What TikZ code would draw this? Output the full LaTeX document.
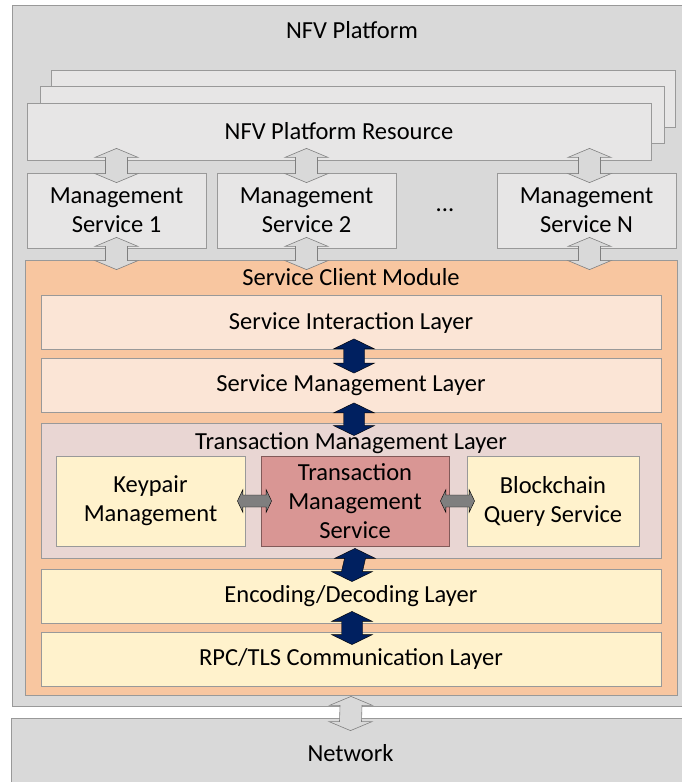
\documentclass[tikz,border=0pt]{standalone}
\usepackage{fontspec}
\setmainfont{Carlito}
\usepackage{tikz}
\usetikzlibrary{calc,positioning}
\definecolor{platgray}{HTML}{D9D9D9}
\definecolor{boxgray}{HTML}{E7E6E6}
\definecolor{linegray}{HTML}{999999}
\definecolor{arrowline}{HTML}{7F7F7F}
\definecolor{scmorange}{HTML}{F8C6A0}
\definecolor{layerpeach}{HTML}{FBE5D6}
\definecolor{tmlrose}{HTML}{E9D6D3}
\definecolor{layercream}{HTML}{FFF2CC}
\definecolor{tmsred}{HTML}{D99694}
\definecolor{darkblue}{HTML}{002060}
\definecolor{midgray}{HTML}{7F7F7F}

\begin{document}
\begin{tikzpicture}[x=1pt,y=-1pt,
    font=\fontsize{24.5}{29}\selectfont,
    box/.style={draw=linegray, line width=0.8pt, align=center, inner sep=0pt},
    resbox/.style={box, fill=boxgray, minimum width=624pt, minimum height=57pt},
    msbox/.style={box, fill=boxgray, minimum width=179pt, minimum height=75pt},
    layer/.style={box, minimum width=620pt, minimum height=54pt},
    subbox/.style={box, minimum height=90pt},
    biarrow/.style n args={3}{to path={(\tikztostart) -- ++(#1,#2) -- ++({#3-#1},0)
      -- ($(\tikztotarget)+(#3,-#2)$) -- ++({#1-#3},0) -- (\tikztotarget)
      -- ++(-#1,-#2) -- ++({#1-#3},0) -- ($(\tikztostart)+(-#3,#2)$)
      -- ++({#3-#1},0) -- cycle}},
    sidearrow/.style n args={3}{to path={(\tikztostart) -- ++(#2,-#1) -- ++(0,{#1-#3})
      -- ($(\tikztotarget)+(-#2,-#3)$) -- ++(0,{#3-#1}) -- (\tikztotarget)
      -- ++(-#2,#1) -- ++(0,{#3-#1}) -- ($(\tikztostart)+(#2,#3)$)
      -- ++(0,{#1-#3}) -- cycle}},
    hollowarrow/.style={biarrow={21.5}{9}{11}, draw=arrowline, line width=0.6pt, fill=platgray},
    bluearrow/.style={biarrow={20.5}{10}{10.5}, fill=darkblue},
    greyarrow/.style={sidearrow={11.5}{5.5}{6}, fill=midgray}]
\useasboundingbox (0,0) rectangle (681,782);
%%%%%%%%%%%%%%%%
\node[box, fill=platgray, minimum width=678pt, minimum height=701pt] (platform) at (351,355.5) {};
\node (plattitle) at (352,30) {NFV Platform};
\node[box, fill=platgray, minimum width=679pt, minimum height=70pt] (network) at (350.5,753) {Network};
%%%%%%%%%%%%%%%%
\node[resbox] (back3) at (363,99) {};
\node[resbox] (back2) at (352,115) {};
\node[resbox] (res) at (339,131.5) {NFV Platform Resource};
%%%%%%%%%%%%%%%%
\node[msbox] (ms1) at (116.5,210.5) {Management\\Service 1};
\node[msbox] (ms2) at (306.5,210.5) {Management\\Service 2};
\node (dots) at (445,210) {...};
\node[msbox] (msn) at (586.5,210.5) {Management\\Service N};
%%%%%%%%%%%%%%%%
\node[box, fill=scmorange, minimum width=652pt, minimum height=435pt] (scm) at (351,477.5) {};
\node (scmtitle) at (351,277) {Service Client Module};
\node[layer, fill=layerpeach] (sil) at (351,322.5) {Service Interaction Layer};
\node[layer, fill=layerpeach] (sml) at (351,385.5) {Service Management Layer};
\node[layer, fill=tmlrose, minimum height=135pt] (tml) at (351,490.5) {};
\node (tmltitle) at (351,443) {Transaction Management Layer};
\node[subbox, fill=layercream, minimum width=189pt] (kp) at (150.5,501) {Keypair\\Management};
\node[subbox, fill=tmsred, draw=tmsred!60!black, minimum width=188pt] (tms) at (355,501) {Transaction\\Management\\Service};
\node[subbox, fill=layercream, minimum width=172pt] (bqs) at (553,501) {Blockchain\\Query Service};
\node[layer, fill=layercream] (ed) at (351,596) {Encoding/Decoding Layer};
\node[layer, fill=layercream] (rpc) at (351,659) {RPC/TLS Communication Layer};
%%%%%%%%%%%%%%%%
\draw[hollowarrow] ([yshift=12pt]res.south -| ms1) to ([yshift=-10pt]ms1.north);
\draw[hollowarrow] ([yshift=12pt]res.south -| ms2) to ([yshift=-10pt]ms2.north);
\draw[hollowarrow] ([yshift=12pt,xshift=3pt]res.south -| msn) to ([yshift=-10pt,xshift=3pt]msn.north);
\draw[hollowarrow] ([yshift=11pt]ms1.south) to ([yshift=-10pt]scm.north -| ms1);
\draw[hollowarrow] ([yshift=11pt]ms2.south) to ([yshift=-10pt]scm.north -| ms2);
\draw[hollowarrow] ([yshift=11pt,xshift=3pt]msn.south) to ([yshift=-10pt,xshift=3pt]scm.north -| msn);
\draw[hollowarrow] ([yshift=-1pt]scm.south) to ([yshift=-13pt]network.north);
%%%%%%%%%%%%%%%%
\draw[bluearrow] ([yshift=11pt,xshift=3pt]sil.south) to ([yshift=-15pt,xshift=3pt]sml.north);
\draw[bluearrow] ([yshift=10pt,xshift=3pt]sml.south) to ([yshift=-13pt,xshift=3pt]tml.north);
\draw[bluearrow] ([yshift=-2pt]tms.south) to ([yshift=-13pt,xshift=1pt]ed.north);
\draw[bluearrow] ([yshift=12pt,xshift=1pt]ed.south) to ([yshift=-13pt,xshift=1pt]rpc.north);
%%%%%%%%%%%%%%%%
\draw[greyarrow] ([xshift=-8pt]kp.east) to ([xshift=11pt]tms.west);
\draw[greyarrow] ([xshift=-9pt]tms.east) to ([xshift=8pt]bqs.west);
\end{tikzpicture}
\end{document}
